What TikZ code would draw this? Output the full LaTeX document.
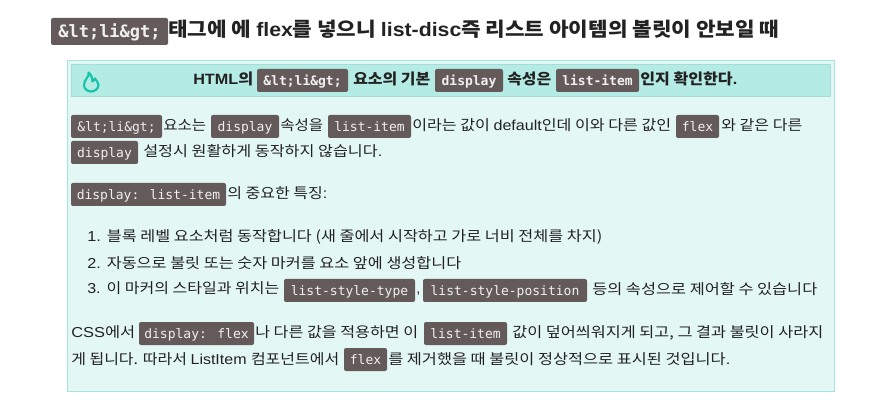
\documentclass[tikz,border=0pt]{standalone}
\usepackage{fontspec}
\setmainfont{Liberation Sans}
\newfontfamily\kr{Noto Sans CJK KR}
\newfontfamily\cm{DejaVu Sans Mono}
\newcommand{\K}[1]{{\kr #1}}
\definecolor{codebg}{HTML}{655A5A}
\definecolor{panelbg}{HTML}{E3F7F5}
\definecolor{panelln}{HTML}{A5E6DC}
\definecolor{headbg}{HTML}{B5EBE5}
\definecolor{headln}{HTML}{A6DDD6}
\definecolor{flame}{HTML}{14C4A8}
\definecolor{ink}{HTML}{222222}
\newdimen\segw
\newdimen\cw
\newdimen\ch
% \seg{name}{x0}{x1}{ycentre}{text}
\newcommand{\seg}[5]{%
  \segw=#3pt \advance\segw -#2pt \segw=0.75\segw
  \node[seg] (#1) at (#2,#4+5) {\resizebox{\segw}{\height}{#5}};}
% \codebox{name}{x0}{x1}{y0}{y1}{text}
\newcommand{\codebox}[7][]{%
  \cw=#4pt \advance\cw -#3pt \cw=0.75\cw
  \ch=#6pt \advance\ch -#5pt \ch=0.75\ch
  \node[codechip,minimum width=\cw,minimum height=\ch,#1] (#2) at ({(#3+#4)/2},{(#5+#6)/2}) {#7};}
\tikzset{
  seg/.style={anchor=base west,inner sep=0pt,text=ink,font=\fontsize{10.8pt}{12pt}\selectfont},
  codechip/.style={fill=codebg,draw=none,rounded corners=1.5pt,inner sep=0pt,text=white!94!black,
    font=\fontsize{9.75pt}{11pt}\cm,text height=7.5pt,text depth=0.7pt},
  panel/.style={fill=panelbg,draw=panelln,line width=0.75pt},
  headbar/.style={fill=headbg,draw=headln,line width=0.75pt},
  flameline/.style={draw=flame,line width=1.6pt,line join=round,line cap=round},
}
\begin{document}
\begin{tikzpicture}[x=0.75pt,y=-0.75pt]
\useasboundingbox (0,0) rectangle (877,402);
\fill[white] (0,0) rectangle (877,402);
\draw[panel] (67.5,60.5) rectangle (834,391.5);
\draw[headbar] (71.5,64.5) rectangle (830.5,96.5);
\draw[flameline] (88.5,72.5) .. controls (90,77) and (84,79) .. (84,85) .. controls (84,89) and (87.5,91.5) .. (91,91.5) .. controls (95,91.5) and (98.5,88.5) .. (98.5,85) .. controls (98.5,82) and (96,81) .. (95,78.5) .. controls (94,80) and (93.5,81) .. (92.5,81.5) .. controls (92.5,78) and (91.5,75) .. (88.5,72.5) -- cycle;
% title
\codebox[font=\fontsize{12.75pt}{14pt}\cm\bfseries,text height=9.5pt,text depth=0.5pt]{t0}{51}{168}{18}{45}{\&lt;li\&gt;}
\begin{scope}
\tikzset{seg/.style={anchor=base west,inner sep=0pt,text=ink,font=\fontsize{14.6pt}{16pt}\selectfont\bfseries}}
\seg{t1}{168}{779}{32}{\K{\bfseries 태그에 에 }flex\K{\bfseries 를 넣으니 }list-disc\K{\bfseries 즉 리스트 아이템의 볼릿이 안보일 때}}
\end{scope}
\begin{scope}
\tikzset{seg/.style={anchor=base west,inner sep=0pt,text=ink,font=\fontsize{11.2pt}{13pt}\selectfont\bfseries}}
\seg{h1}{193}{253}{80}{HTML\K{\bfseries 의}}
\codebox[font=\fontsize{9.75pt}{11pt}\cm\bfseries]{h2}{257}{348}{69}{92}{\&lt;li\&gt;}
\seg{h3}{353}{430}{80}{\K{\bfseries 요소의 기본}}
\codebox[font=\fontsize{9.75pt}{11pt}\cm\bfseries]{h4}{435}{503}{69}{92}{display}
\seg{h5}{507}{551}{80}{\K{\bfseries 속성은}}
\codebox[font=\fontsize{9.75pt}{11pt}\cm\bfseries]{h6}{556}{639}{69}{92}{list-item}
\seg{h7}{640}{737}{80}{\K{\bfseries 인지 확인한다}.}
\end{scope}
% paragraph 1
\codebox{a1}{71}{162}{115}{138}{\&lt;li\&gt;}
\seg{a2}{163}{206}{126}{\K{요소는}}
\codebox{a3}{211}{279}{115}{138}{display}
\seg{a4}{280}{323}{126}{\K{속성을}}
\codebox{a5}{328}{411}{115}{138}{list-item}
\seg{a6}{412}{671}{126}{\K{이라는 값이 }default\K{인데 이와 다른 값인}}
\codebox{a7}{676}{719}{115}{138}{flex}
\seg{a8}{721}{802}{126}{\K{와 같은 다른}}
\codebox{b1}{71}{138}{141}{164}{display}
\seg{b2}{143}{382}{152}{\K{설정시 원활하게 동작하지 않습니다}.}
% paragraph 2
\codebox{c1}{71}{226}{183}{206}{display: list-item}
\seg{c2}{227}{327}{194}{\K{의 중요한 특징}:}
% list
\seg{d1}{87}{602}{237}{1. \K{블록 레벨 요소처럼 동작합니다 (새 줄에서 시작하고 가로 너비 전체를 차지)}}
\seg{d2}{87}{461}{263}{2. \K{자동으로 불릿 또는 숫자 마커를 요소 앞에 생성합니다}}
\seg{d3}{87}{279}{289}{3. \K{이 마커의 스타일과 위치는}}
\codebox{d4}{284}{415}{279}{302}{list-style-type}
\seg{d5}{416}{420}{289}{,}
\codebox{d6}{423}{587}{279}{302}{list-style-position}
\seg{d7}{592}{817}{289}{\K{등의 속성으로 제어할 수 있습니다}}
% paragraph 3
\seg{e1}{71}{135}{333}{CSS\K{에서}}
\codebox{e2}{139}{254}{322}{345}{display: flex}
\seg{e3}{255}{418}{333}{\K{나 다른 값을 적용하면 이}}
\codebox{e4}{424}{507}{322}{345}{list-item}
\seg{e5}{512}{823}{333}{\K{값이 덮어씌워지게 되고, 그 결과 불릿이 사라지}}
\seg{f1}{71}{339}{359}{\K{게 됩니다. 따라서 }ListItem \K{컴포넌트에서}}
\codebox{f2}{344}{387}{348}{371}{flex}
\seg{f3}{388}{730}{359}{\K{를 제거했을 때 불릿이 정상적으로 표시된 것입니다}.}
\end{tikzpicture}
\end{document}
